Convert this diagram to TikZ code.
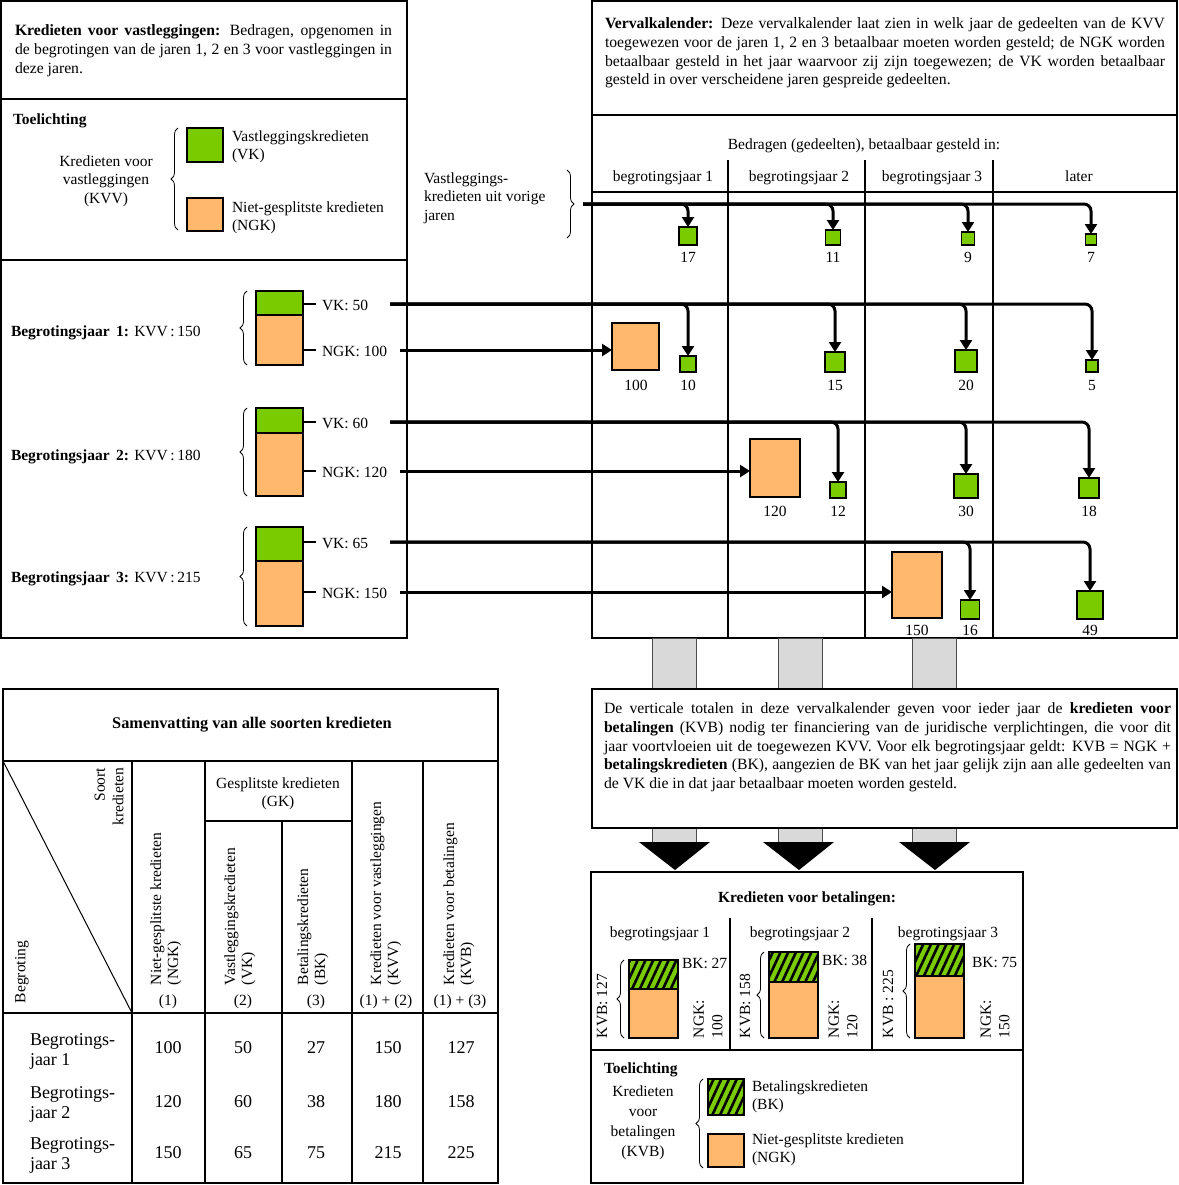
\documentclass[tikz,border=0pt]{standalone}
\usepackage{fontspec}
\setmainfont{Liberation Serif}
\usetikzlibrary{arrows.meta,decorations.pathreplacing,patterns.meta}
\definecolor{vkgreen}{RGB}{122,204,0}
\definecolor{ngkorange}{RGB}{255,184,108}
\definecolor{bargray}{RGB}{217,217,217}
\begin{document}
\begin{tikzpicture}[x=1pt,y=-1pt,
  every node/.style={inner sep=0pt,outer sep=0pt,font=\fontsize{15.5}{18.5}\selectfont},
  para/.style={font=\fontsize{15.7}{18.6}\selectfont},
  bf/.style={font=\fontsize{15.5}{18.5}\selectfont\bfseries},
  big/.style={font=\fontsize{18}{20}\selectfont},
  frame/.style={line width=1.8pt},
  colline/.style={line width=1.3pt},
  thinline/.style={line width=1pt},
  brc/.style={decorate,decoration={brace,amplitude=7pt,aspect=0.5},line width=0.8pt},
  vkbox/.style={draw=black,line width=1.2pt,fill=vkgreen},
  ngkbox/.style={draw=black,line width=1.2pt,fill=ngkorange},
  bkbox/.style={draw=black,line width=1.2pt,fill=vkgreen,
    postaction={pattern={Lines[angle=65,distance=7pt,line width=2.6pt]},pattern color=black}},
  sq/.style={vkbox,minimum width=#1,minimum height=#1,anchor=south},
  vkarrow/.style={line width=3pt,rounded corners=7pt,-{Triangle[length=10pt,width=12pt]}},
  ngkarrow/.style={line width=3pt,-{Triangle[length=10pt,width=12pt]}},
  tick/.style={line width=2pt},
  graybar/.style={fill=bargray,draw=black!70,line width=0.8pt}
]
\useasboundingbox (0,0) rectangle (1178,1185);

% ---------- left top box ----------
\draw[frame] (1,1) rectangle (407,638);
\draw[frame] (1,99) -- (407,99);
\draw[frame] (1,260) -- (407,260);
\node[para,anchor=north west,text width=377pt,align=justify] (kvvtxt) at (15,25)
 {\textbf{Kredieten voor vastleggingen:} Bedragen, opgenomen in\linebreak de begrotingen van de jaren 1, 2 en 3 voor vastleggingen in\linebreak deze jaren.};

\node[bf,anchor=base west] (toel1) at (13,125) {Toelichting};
\node[align=center] (kvvlab) at (106,181) {Kredieten voor\\vastleggingen\\(KVV)};
\draw[brc] (178,230) -- (178,128);
\node[vkbox,minimum width=36pt,minimum height=34pt,anchor=north west] (legvk) at (187,128) {};
\node[ngkbox,minimum width=36pt,minimum height=33pt,anchor=north west] (legngk) at (187,198) {};
\node[anchor=west,align=left] (legvkt) at (232,147) {Vastleggingskredieten\\(VK)};
\node[anchor=west,align=left] (legngkt) at (232,218) {Niet-gesplitste kredieten\\(NGK)};

% ---------- rows on the left ----------
\node[vkbox,minimum width=47pt,minimum height=24pt,anchor=north west] (g1) at (256,291) {};
\node[ngkbox,minimum width=47pt,minimum height=50pt,anchor=north west] (r1) at (256,315) {};
\node[vkbox,minimum width=47pt,minimum height=25pt,anchor=north west] (g2) at (256,408) {};
\node[ngkbox,minimum width=47pt,minimum height=63pt,anchor=north west] (r2) at (256,433) {};
\node[vkbox,minimum width=47pt,minimum height=34pt,anchor=north west] (g3) at (256,527) {};
\node[ngkbox,minimum width=47pt,minimum height=65pt,anchor=north west] (r3) at (256,561) {};
\draw[brc] (247,365) -- (247,291);
\draw[brc] (247,496) -- (247,408);
\draw[brc] (247,626) -- (247,527);

\node[anchor=base west] (by1) at (11,336) {\textbf{Begrotingsjaar\, 1:} KVV\,:\,150};
\node[anchor=base west] (by2) at (11,460) {\textbf{Begrotingsjaar\, 2:} KVV\,:\,180};
\node[anchor=base west] (by3) at (11,582) {\textbf{Begrotingsjaar\, 3:} KVV\,:\,215};

\coordinate (v1) at (390,304);  \coordinate (n1s) at (400,350);
\coordinate (v2) at (390,422);  \coordinate (n2s) at (400,471);
\coordinate (v3) at (390,542);  \coordinate (n3s) at (400,592);

\node[anchor=base west] (vl1) at (322,310) {VK: 50};
\node[anchor=base west] (nl1) at (322,356) {NGK: 100};
\node[anchor=base west] (vl2) at (322,428) {VK: 60};
\node[anchor=base west] (nl2) at (322,477) {NGK: 120};
\node[anchor=base west] (vl3) at (322,548) {VK: 65};
\node[anchor=base west] (nl3) at (322,598) {NGK: 150};
\draw[tick] (g1.east |- v1) -- +(13,0);
\draw[tick] (r1.east |- n1s) -- +(13,0);
\draw[tick] (g2.east |- v2) -- +(13,0);
\draw[tick] (r2.east |- n2s) -- +(13,0);
\draw[tick] (g3.east |- v3) -- +(13,0);
\draw[tick] (r3.east |- n3s) -- +(13,0);

% ---------- right box (vervalkalender) ----------
\draw[frame] (592,1) rectangle (1177,638);
\draw[frame] (592,115) -- (1177,115);
\draw[frame] (592,192) -- (1177,192);
\draw[colline] (728,160) -- (728,638);
\draw[colline] (865,160) -- (865,638);
\draw[colline] (993,160) -- (993,638);
\node[para,anchor=north west,text width=560pt,align=justify] (vvtxt) at (605,18)
 {\textbf{Vervalkalender:} Deze vervalkalender laat zien in welk jaar de gedeelten van de KVV\linebreak toegewezen voor de jaren 1, 2 en 3 betaalbaar moeten worden gesteld; de NGK worden\linebreak betaalbaar gesteld in het jaar waarvoor zij zijn toegewezen; de VK worden betaalbaar\linebreak gesteld in over verscheidene jaren gespreide gedeelten.};
\node[anchor=base] (bedr) at (864,150) {Bedragen (gedeelten), betaalbaar gesteld in:};
\node[anchor=base] (c1) at (663,182) {begrotingsjaar 1};
\node[anchor=base] (c2) at (799,182) {begrotingsjaar 2};
\node[anchor=base] (c3) at (932,182) {begrotingsjaar 3};
\node[anchor=base] (c4) at (1079,182) {later};

% previous years
\node[anchor=west,align=left] (vj) at (424,198) {Vastleggings-\\kredieten uit vorige\\jaren};
\draw[brc] (567,170) -- (567,238);
\coordinate (v0) at (583,204);

% squares
\node[sq=18pt] (p17) at (688,245) {};
\node[sq=15pt] (p11) at (833,245) {};
\node[sq=13pt] (p9)  at (968,245) {};
\node[sq=11pt] (p7)  at (1091,245) {};
\node[sq=16pt] (a10) at (688,372) {};
\node[sq=20pt] (a15) at (835,372) {};
\node[sq=22pt] (a20) at (966,372) {};
\node[sq=12pt] (a5)  at (1092,372) {};
\node[sq=16pt] (b12) at (838,498) {};
\node[sq=24pt] (b30) at (966,498) {};
\node[sq=20pt] (b18) at (1089,498) {};
\node[sq=19pt] (c16) at (970,619) {};
\node[vkbox,minimum width=26pt,minimum height=28pt,anchor=south] (c49) at (1090,619) {};
\node[ngkbox,minimum width=47pt,minimum height=47pt,anchor=north west] (o1) at (612,323) {};
\node[ngkbox,minimum width=50pt,minimum height=58pt,anchor=north west] (o2) at (750,439) {};
\node[ngkbox,minimum width=50pt,minimum height=66pt,anchor=north west] (o3) at (892,552) {};

% numbers
\node (lp17) at (688,257) {17};
\node (lp11) at (833,257) {11};
\node (lp9)  at (968,257) {9};
\node (lp7)  at (1091,257) {7};
\node (lo1) at (636,385) {100};
\node (la10) at (688,385) {10};
\node (la15) at (835,385) {15};
\node (la20) at (966,385) {20};
\node (la5)  at (1092,385) {5};
\node (lo2) at (775,511) {120};
\node (lb12) at (838,511) {12};
\node (lb30) at (966,511) {30};
\node (lb18) at (1089,511) {18};
\node (lo3) at (917,630) {150};
\node (lc16) at (970,630) {16};
\node (lc49) at (1090,630) {49};

% arrows
\foreach \t in {p17,p11,p9,p7} \draw[vkarrow] (v0) -| (\t.north);
\foreach \t in {a10,a15,a20,a5} \draw[vkarrow] (v1) -| (\t.north);
\foreach \t in {b12,b30,b18} \draw[vkarrow] (v2) -| (\t.north);
\foreach \t in {c16,c49} \draw[vkarrow] (v3) -| (\t.north);
\draw[ngkarrow] (n1s) -- (o1.west |- n1s);
\draw[ngkarrow] (n2s) -- (o2.west |- n2s);
\draw[ngkarrow] (n3s) -- (o3.west |- n3s);

% ---------- gray bars, text box, triangles ----------
\draw[graybar] (652,638) rectangle (696,843);
\draw[graybar] (778,638) rectangle (822,843);
\draw[graybar] (912,638) rectangle (956,843);
\draw[frame,fill=white] (592,689) rectangle (1177,828);
\node[para,anchor=north west,text width=567pt,align=justify] (kvbtxt) at (604,703)
 {De verticale totalen in deze vervalkalender geven voor ieder jaar de \textbf{kredieten voor}\linebreak \textbf{betalingen} (KVB) nodig ter financiering van de juridische verplichtingen, die voor dit\linebreak jaar voortvloeien uit de toegewezen KVV. Voor elk begrotingsjaar geldt: KVB = NGK +\linebreak \textbf{betalingskredieten} (BK), aangezien de BK van het jaar gelijk zijn aan alle gedeelten van\linebreak de VK die in dat jaar betaalbaar moeten worden gesteld.};
\fill (639,842) -- (710,842) -- (675,870) -- cycle;
\fill (763,842) -- (834,842) -- (799,870) -- cycle;
\fill (899,842) -- (970,842) -- (935,870) -- cycle;

% ---------- bottom right box ----------
\draw[frame] (591,872) rectangle (1023,1183);
\draw[frame] (591,1050) -- (1023,1050);
\draw[colline] (730,918) -- (730,1050);
\draw[colline] (872,918) -- (872,1050);
\node[bf,anchor=base] (kvbtitle) at (807,902) {Kredieten voor betalingen:};
\node[anchor=base] (d1) at (660,937) {begrotingsjaar 1};
\node[anchor=base] (d2) at (800,937) {begrotingsjaar 2};
\node[anchor=base] (d3) at (948,937) {begrotingsjaar 3};

\node[bkbox,minimum width=49pt,minimum height=29pt,anchor=north west] (h1) at (629,960) {};
\node[ngkbox,minimum width=49pt,minimum height=49pt,anchor=north west] (q1) at (629,989) {};
\node[bkbox,minimum width=49pt,minimum height=30pt,anchor=north west] (h2) at (769,952) {};
\node[ngkbox,minimum width=49pt,minimum height=56pt,anchor=north west] (q2) at (769,982) {};
\node[bkbox,minimum width=49pt,minimum height=32pt,anchor=north west] (h3) at (915,944) {};
\node[ngkbox,minimum width=49pt,minimum height=62pt,anchor=north west] (q3) at (915,976) {};
\draw[brc] (624,1038) -- (624,960);
\draw[brc] (764,1038) -- (764,952);
\draw[brc] (910,1038) -- (910,944);
\node[rotate=90,anchor=west] (kvb1) at (602,1038) {KVB: 127};
\node[rotate=90,anchor=west] (kvb2) at (745,1038) {KVB: 158};
\node[rotate=90,anchor=west] (kvb3) at (888,1038) {KVB : 225};
\node[anchor=base west] (bk1) at (682,968) {BK: 27};
\node[anchor=base west] (bk2) at (822,965) {BK: 38};
\node[anchor=base west] (bk3) at (972,967) {BK: 75};
\node[rotate=90,anchor=west,align=left] (ng1) at (708,1038) {NGK:\\100};
\node[rotate=90,anchor=west,align=left] (ng2) at (843,1038) {NGK:\\120};
\node[rotate=90,anchor=west,align=left] (ng3) at (995,1038) {NGK:\\150};

\node[bf,anchor=base west] (toel2) at (604,1073) {Toelichting};
\node[align=center,font=\fontsize{15.5}{20}\selectfont] (kvblab) at (643,1123) {Kredieten\\voor\\betalingen\\(KVB)};
\draw[brc] (703,1168) -- (703,1079);
\node[bkbox,minimum width=36pt,minimum height=36pt,anchor=north west] (legbk) at (708,1079) {};
\node[ngkbox,minimum width=36pt,minimum height=33pt,anchor=north west] (legngk2) at (708,1134) {};
\node[anchor=west,align=left] (legbkt) at (752,1097) {Betalingskredieten\\(BK)};
\node[anchor=west,align=left] (legngkt2) at (752,1150) {Niet-gesplitste kredieten\\(NGK)};

% ---------- summary table ----------
\draw[frame] (3,689) rectangle (498,1183);
\draw[frame] (3,761) -- (498,761);
\draw[frame] (3,1013) -- (498,1013);
\draw[colline] (132,761) -- (132,1183);
\draw[colline] (205,761) -- (205,1183);
\draw[colline] (352,761) -- (352,1183);
\draw[colline] (423,761) -- (423,1183);
\draw[colline] (282,821) -- (282,1183);
\draw[colline] (205,821) -- (352,821);
\draw[thinline] (3,761) -- (132,1013);
\node[font=\fontsize{16.3}{19}\selectfont\bfseries] (sumtitle) at (252,725) {Samenvatting van alle soorten kredieten};
\node[align=center] (gk) at (278,794) {Gesplitste kredieten\\(GK)};
\node[rotate=90,anchor=east,align=right] (soort) at (109,768) {Soort\\kredieten};
\node[rotate=90,anchor=west] (begr) at (22,1003) {Begroting};
\node[rotate=90,anchor=west,align=left,font=\fontsize{15.5}{17}\selectfont] (h1c) at (166,985) {Niet-gesplitste kredieten\\(NGK)};
\node[rotate=90,anchor=west,align=left,font=\fontsize{15.5}{17}\selectfont] (h2c) at (240,985) {Vastleggingskredieten\\(VK)};
\node[rotate=90,anchor=west,align=left,font=\fontsize{15.5}{17}\selectfont] (h3c) at (313,985) {Betalingskredieten\\(BK)};
\node[rotate=90,anchor=west,align=left,font=\fontsize{15.5}{17}\selectfont] (h4c) at (386,985) {Kredieten voor vastleggingen\\(KVV)};
\node[rotate=90,anchor=west,align=left,font=\fontsize{15.5}{17}\selectfont] (h5c) at (459,985) {Kredieten voor betalingen\\(KVB)};
\node (n1c) at (168,1002) {(1)};
\node (n2c) at (243,1002) {(2)};
\node (n3c) at (316,1002) {(3)};
\node (n4c) at (386,1002) {(1) + (2)};
\node (n5c) at (460,1002) {(1) + (3)};

\node[big,anchor=west,align=left] (row1) at (30,1051) {Begrotings-\\jaar 1};
\node[big,anchor=west,align=left] (row2) at (30,1104) {Begrotings-\\jaar 2};
\node[big,anchor=west,align=left] (row3) at (30,1155) {Begrotings-\\jaar 3};
\foreach \y/\a/\b/\c/\d/\e in {1048/100/50/27/150/127,1102/120/60/38/180/158,1153/150/65/75/215/225}{
  \node[big] at (168,\y) {\a};
  \node[big] at (243,\y) {\b};
  \node[big] at (316,\y) {\c};
  \node[big] at (388,\y) {\d};
  \node[big] at (461,\y) {\e};
}
\end{tikzpicture}
\end{document}
